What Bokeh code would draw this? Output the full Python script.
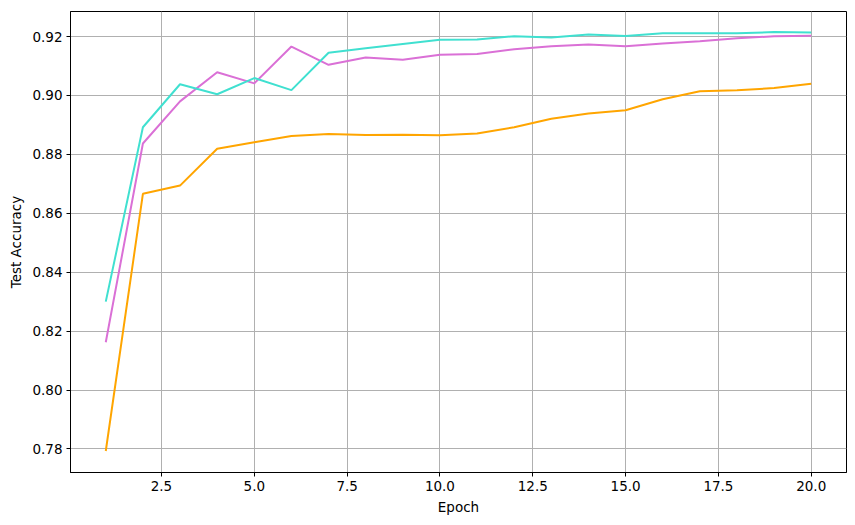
from bokeh.plotting import figure
from bokeh.models import FixedTicker, Range1d, CustomJSTickFormatter
from bokeh.embed import file_html
from bokeh.resources import INLINE

epochs = list(range(1, 21))
acc_turquoise = [0.8300, 0.8892, 0.9038, 0.9004, 0.9059, 0.9018, 0.9145, 0.9160, 0.9175, 0.9189,
                 0.9190, 0.9201, 0.9197, 0.9207, 0.9202, 0.9211, 0.9211, 0.9211, 0.9215, 0.9214]
acc_orchid = [0.8162, 0.8837, 0.8980, 0.9079, 0.9041, 0.9166, 0.9104, 0.9129, 0.9121, 0.9138,
              0.9141, 0.9157, 0.9167, 0.9173, 0.9167, 0.9176, 0.9184, 0.9194, 0.9201, 0.9203]
acc_orange = [0.7793, 0.8666, 0.8694, 0.8819, 0.8841, 0.8862, 0.8869, 0.8866, 0.8867, 0.8865,
              0.8871, 0.8892, 0.8921, 0.8939, 0.8950, 0.8987, 0.9014, 0.9018, 0.9025, 0.9040]
x_ticks = [2.5, 5.0, 7.5, 10.0, 12.5, 15.0, 17.5, 20.0]
y_ticks = [0.78, 0.80, 0.82, 0.84, 0.86, 0.88, 0.90, 0.92]

p = figure(width=854, height=518, output_backend="svg", toolbar_location=None,
           x_range=Range1d(0.05, 20.95), y_range=Range1d(0.7720, 0.9285),
           min_border_left=70, min_border_right=8, min_border_top=11, min_border_bottom=46)

for ys, c in [(acc_orange, "#FFA500"), (acc_orchid, "#DA70D6"), (acc_turquoise, "#40E0D0")]:
    p.line(epochs, ys, line_color=c, line_width=2)

font = "DejaVu Sans"
p.xaxis.ticker = FixedTicker(ticks=x_ticks)
p.yaxis.ticker = FixedTicker(ticks=y_ticks)
p.xaxis.formatter = CustomJSTickFormatter(code="return tick.toFixed(1);")
p.yaxis.formatter = CustomJSTickFormatter(code="return tick.toFixed(2);")
p.xaxis.axis_label = "Epoch"
p.yaxis.axis_label = "Test Accuracy"
for ax in (p.xaxis, p.yaxis):
    ax.axis_label_text_font = font
    ax.axis_label_text_font_size = "13.5px"
    ax.axis_label_text_font_style = "normal"
    ax.major_label_text_font = font
    ax.major_label_text_font_size = "13.5px"
    ax.major_label_text_color = "black"
    ax.axis_label_text_color = "black"
    ax.minor_tick_line_color = None
    ax.major_tick_in = 0
    ax.major_tick_out = 4
    ax.major_tick_line_color = "black"
    ax.axis_line_color = "black"
    ax.axis_label_standoff = 5
    ax.major_label_standoff = 4

for g in (p.xgrid, p.ygrid):
    g.grid_line_color = "#b0b0b0"
    g.grid_line_width = 1
p.xgrid.ticker = FixedTicker(ticks=x_ticks)
p.ygrid.ticker = FixedTicker(ticks=y_ticks)

p.outline_line_color = "black"
p.outline_line_width = 1
p.outline_line_alpha = 1
p.background_fill_color = "white"
p.border_fill_color = "white"

open("out.html", "w").write(file_html(p, INLINE))
